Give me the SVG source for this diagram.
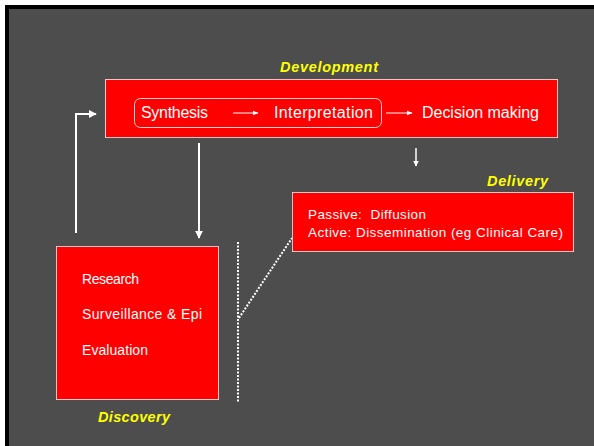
<svg xmlns="http://www.w3.org/2000/svg" width="594" height="446" viewBox="0 0 594 446">
<defs>
<style>
.box{fill:#ff0000;stroke:#f0c8c8;stroke-width:1}
.t{font-family:"Liberation Sans",Arial,sans-serif;fill:#ffffff}
.lbl{font-family:"Liberation Sans",Arial,sans-serif;fill:#ffff00;font-weight:bold;font-style:italic;font-size:14.5px}
.ln{stroke:#ffffff;fill:none}
.dot{stroke:#ffffff;fill:none;stroke-width:2;stroke-dasharray:2 1.5}
</style>
<marker id="ah" viewBox="0 0 10 10" refX="9" refY="5" markerWidth="4" markerHeight="4" orient="auto" markerUnits="strokeWidth">
<path d="M0,0 L10,5 L0,10 z" fill="#ffffff"/>
</marker>
<marker id="ahs" viewBox="0 0 10 10" refX="9" refY="5" markerWidth="6" markerHeight="6" orient="auto" markerUnits="strokeWidth">
<path d="M0,1 L10,5 L0,9 z" fill="#ffffff"/>
</marker>
</defs>
<rect x="0" y="0" width="594" height="446" fill="#ffffff"/>
<rect x="5" y="5" width="589" height="441" fill="#000000"/>
<rect x="9" y="9" width="585" height="437" fill="#4d4d4d"/>

<g id="development">
<rect class="box" x="105.5" y="79.5" width="452" height="58"/>
<rect x="134.5" y="98.5" width="247" height="29" rx="6" fill="none" stroke="#f5d0d0" stroke-width="1"/>
<text class="t" x="141" y="118" font-size="16" textLength="67">Synthesis</text>
<text class="t" x="274" y="118" font-size="16" textLength="99">Interpretation</text>
<text class="t" x="422" y="118" font-size="16" textLength="117">Decision making</text>
<text class="lbl" x="280" y="72" textLength="98">Development</text>
</g>

<g id="delivery">
<rect class="box" x="292.5" y="192.5" width="281" height="59"/>
<text class="t" x="308" y="219" font-size="13.5" xml:space="preserve" textLength="118">Passive:  Diffusion</text>
<text class="t" x="308" y="237" font-size="13.5" textLength="255">Active: Dissemination (eg Clinical Care)</text>
<text class="lbl" x="487" y="186" textLength="61">Delivery</text>
</g>

<g id="discovery">
<rect class="box" x="56.5" y="246.5" width="162" height="153"/>
<text class="t" x="82" y="284" font-size="14" textLength="57">Research</text>
<text class="t" x="82" y="319" font-size="14" textLength="120">Surveillance &amp; Epi</text>
<text class="t" x="82" y="355" font-size="14" textLength="66">Evaluation</text>
<text class="lbl" x="98" y="422" textLength="72">Discovery</text>
</g>

<g id="connectors">
<line class="ln" x1="233" y1="113" x2="258" y2="113" stroke-width="1" marker-end="url(#ahs)"/>
<line class="ln" x1="386" y1="113" x2="412" y2="113" stroke-width="1" marker-end="url(#ahs)"/>
<line class="ln" x1="416" y1="148" x2="416" y2="166" stroke-width="1.5" marker-end="url(#ah)"/>
<polyline class="ln" points="76,233 76,114 96,114" stroke-width="2" marker-end="url(#ah)"/>
<line class="ln" x1="199" y1="143" x2="199" y2="238" stroke-width="2" marker-end="url(#ah)"/>
<line class="dot" x1="238" y1="242" x2="238" y2="402"/>
<line class="dot" x1="239" y1="318" x2="292" y2="238"/>
</g>
</svg>
